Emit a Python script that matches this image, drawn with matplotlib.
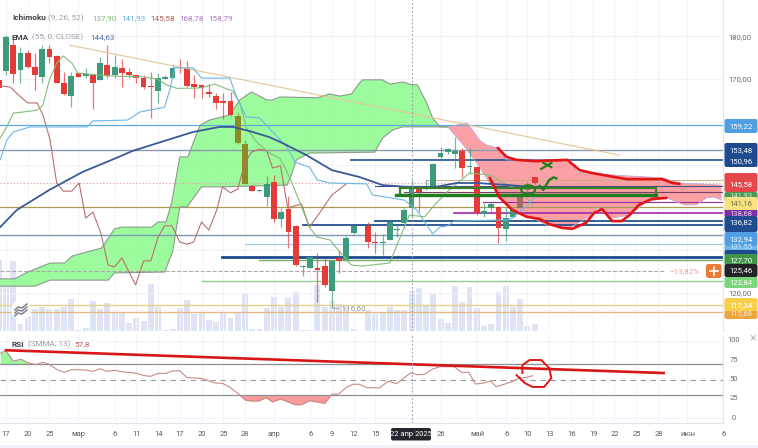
import numpy as np
import matplotlib
matplotlib.use("Agg")
import matplotlib.pyplot as plt
from matplotlib.patches import FancyBboxPatch, Ellipse, Circle

plt.rcParams['font.family'] = ['Roboto', 'DejaVu Sans']

# ---------- candles (bar index -1 .. 73) ----------
OPEN = [169.8,171.9,177.9,172.1,176.1,172.9,170.4,177.0,175.4,169.0,166.1,171.3,170.8,170.9,169.8,173.3,170.9,172.6,171.6,170.9,170.2,168.3,167.3,170.1,170.3,172.7,172.6,168.8,168.5,166.9,166.1,164.9,164.9,161.3,154.8,145.0,143.9,142.4,145.9,137.3,139.6,135.7,126.0,125.9,125.8,126.4,120.5,128.2,127.7,134.1,np.nan,135.7,131.8,131.6,132.4,134.8,136.3,139.8,144.2,144.2,145.0,151.8,152.9,152.5,153.2,149.4,149.5,138.5,139.8,140.2,134.9,137.7,142.9,144.0,147.2]
HIGH = [170.3,180.2,179.5,177.5,176.8,176.0,177.9,177.9,175.6,171.7,171.7,171.4,172.5,170.9,175.2,177.9,175.6,174.6,172.5,171.0,170.9,171.7,171.3,170.9,173.3,174.6,174.3,170.9,168.8,168.8,166.7,166.7,167.0,162.1,155.7,145.2,144.1,147.3,147.5,139.9,142.7,135.8,126.5,128.5,129.4,128.5,127.7,130.0,133.2,135.7,np.nan,136.7,134.2,133.7,136.9,135.9,139.8,146.4,144.5,146.4,150.3,154.2,153.8,156.5,153.8,153.8,149.7,141.0,141.3,140.3,140.2,140.1,143.4,146.0,147.2]
LOW = [167.0,170.9,169.0,169.0,172.5,167.4,169.0,173.7,169.0,166.3,163.5,170.4,170.2,163.1,169.8,170.2,170.2,168.1,170.2,169.0,167.6,160.8,164.3,170.0,170.2,171.5,168.1,165.5,165.6,165.9,163.1,160.6,161.3,154.8,145.4,143.8,143.6,140.3,136.7,135.4,130.6,126.4,124.0,125.8,118.0,121.5,116.6,124.7,127.5,133.8,np.nan,130.4,129.3,128.9,132.4,133.0,135.1,137.8,139.0,144.1,144.7,150.9,152.5,149.1,147.0,147.8,138.2,137.8,139.0,131.6,132.2,137.5,139.8,143.0,145.5]
CLOSE = [168.0,179.9,171.2,176.0,172.7,170.9,177.0,175.1,169.1,166.5,170.7,170.5,170.9,169.1,173.7,170.7,172.7,171.5,170.9,170.3,168.2,168.1,170.2,170.3,172.6,172.6,168.4,168.2,168.0,166.5,164.5,164.3,161.6,155.0,145.5,143.9,143.9,145.5,137.4,139.0,134.3,126.5,126.2,128.3,125.4,121.9,127.5,127.5,132.8,135.7,np.nan,132.0,131.6,131.8,136.7,135.0,139.4,144.5,143.5,144.7,150.1,152.6,153.6,153.2,149.1,149.5,138.6,139.2,140.8,135.1,137.5,139.4,139.9,144.4,145.6]
VOLUME = [71,52,70,7,15,22,24,22,22,24,32,1,3,30,22,28,19,18,8,13,10,47,24,1,2,23,31,17,18,11,9,18,13,19,37,2,2,23,34,24,33,39,1,1,46,24,30,27,24,2,0,21,17,18,24,21,21,40,43,25,37,12,8,45,29,44,23,5,7,39,45,24,32,5,7]

# ---------- ichimoku and EMA ----------
EMA_X = [-0.8,1.5,6,10.6,14.6,17.5,22.2,25.8,29.5,31.3,33.7,36.4,38.2,41.5,45,48.8,52,55.3,59.4,62.2,65,69.5,73]
EMA_Y = [135.4,139.4,144.1,148.3,151.1,153.2,155.7,157.6,158.8,158.8,157.8,156.4,155.0,152.2,148.7,147.1,145.2,144.8,144.8,145.7,145.7,145.2,144.7]
KIJUN_X = [-0.8,0.1,1,3.3,11.2,12,16.8,18.5,21.9,22.6,23.3,25.8,27,30.9,32,33.2,35,38.8,39.9,41.9,43,44.7,49.8,50.6,55,56.7,58.9,59.9,61,61.9,69.5,70.9,73]
KIJUN_Y = [151.1,155.7,157.6,158.8,158.8,160.2,160.4,162.3,163.4,167.4,172.6,172.6,170.2,170.2,165.1,161.1,160.9,154.1,150.6,149.4,146.4,145.7,145.5,142.9,141.7,139.4,133.8,135.4,135.7,136.8,137.1,138.9,142.2]
TENKAN_X = [-0.8,0.1,1,4.3,5.1,6,7,7.9,9.1,9.9,14.3,18.9,20.8,22.2,23.6,26.8,28.8,30.5,31.3,32.3,33.2,34.6,36.4,37.8,38.8,39.6,40.6,41.9,42.9,44.7,46.1,47.7,49.2,53,54.1,55.7,57.8,59.4,61.2,64,66.8,69.5,70.9,71.7,72.7]
TENKAN_Y = [156.2,158.8,162.0,162.7,163.9,169.8,173.7,175.4,173.7,171.4,170.7,170.5,170.0,168.6,167.8,167.9,168.8,167.7,167.2,164.4,158.5,155.3,152.7,151.5,148.3,145.2,141.0,135.4,133.1,132.4,129.6,126.5,126.3,127.0,131.7,138.2,137.8,141.0,144.1,148.0,147.6,145.0,144.5,142.7,140.3]
CHIKOU_X = [-0.8,0.6,1.7,3,4.3,5.1,6.1,6.5,7,7.9,9.1,10.1,11,12,13.1,14.1,15,16,17.9,19,20,21,21.9,22.9,24,25,25.9,27,28,29.1,29.9,31,32,33,33.9,35,36,36.8,37.9,38.9,40.8,41.9,43.3,45,47]
CHIKOU_Y = [168.4,168.1,166.3,164.4,164.4,161.6,155.7,151.1,145.7,143.8,143.8,145.7,137.5,138.9,134.0,126.5,126.1,128.2,121.9,127.5,127.5,133.1,135.7,135.7,131.9,131.4,131.9,136.6,134.7,139.4,144.8,143.4,144.3,150.4,152.9,153.6,153.2,149.2,149.7,139.9,140.8,135.4,138.7,142.9,145.5]
GREEN_TOP_X = [-0.8,1.2,3,6.1,8.1,9.1,11.2,13.2,15,16,20.1,21,22.1,22.9,24,25.1,26.8,28.1,30.9,32.3,33.9,36,36.8,37.8,43,44.7,46.1,47.7,48.6,49.2,52,53,54.8,55.7,56.8,58.1,58.9,59.9,61]
GREEN_TOP_Y = [123.3,123.3,124.9,127.0,127.0,128.6,129.6,130.5,135.0,135.4,135.4,136.6,136.6,141.3,151.8,151.8,159.2,160.4,161.6,165.1,167.0,165.1,165.1,165.8,165.6,166.5,166.0,166.5,168.6,169.8,169.8,168.8,169.3,168.8,168.6,164.4,160.9,158.8,158.8]
GREEN_LOW_X = [-0.8,4,6.1,14.1,15,21.9,23,24,25,27,29.9,38.8,39.4,40.1,41.9,50.9,52,53.4,54.8,61]
GREEN_LOW_Y = [121.6,121.6,123.0,123.0,124.7,124.9,129.6,140.1,140.1,144.8,144.8,145.2,147.6,151.1,152.7,152.9,156.2,158.1,158.8,158.8]
RED_TOP_X = [61,63.7,65.4,66.3,67.9,69.1,77.8,78.9,80.5,83.3,90.6,93,98.8]
RED_TOP_Y = [158.8,159.7,155.7,154.6,153.9,151.1,151.1,148.3,148.0,147.6,146.9,145.7,145.2]
RED_LOW_X = [61,63,65,66.8,69.5,70.9,73.2,74.6,77.8,80.5,81.7,83.7,86.1,88.4,91.2,93.7,95.3,96.7,97.8,98.8]
RED_LOW_Y = [158.8,154.9,150.4,145.7,139.9,138.7,137.1,135.9,135.2,137.8,139.9,137.5,138.2,141.3,142.2,140.6,140.6,142.2,142.4,141.7]

# ---------- drawings ----------
TREND_X = [8.8,84.7]
TREND_Y = [177.9,152.2]
STROKE_UP_X = [67.9,69.1,70.5,73.2,77.5,79.2,81,85.7,90.6,92,93]
STROKE_UP_Y = [153.9,151.8,151.1,150.8,151.1,148.7,148.0,146.6,146.6,145.7,145.5]
STROKE_LOW_X = [66.8,68.1,69.9,71.9,73.7,75,76.8,78.2,80.1,81.2,82.3,83.7,85,86.1,87.4,89.2,91.2]
STROKE_LOW_Y = [146.9,142.4,139.4,137.8,137.3,136.1,135.2,135.0,136.4,138.7,139.6,136.8,136.8,138.2,140.6,142.0,142.2]
CHECK_X = [73.7,74.2,75,75.6,76]
CHECK_Y = [145.0,144.1,146.4,147.0,146.8]
CROSS_A_X = [74.2,75.3]
CROSS_A_Y = [150.4,149.4]
CROSS_B_X = [75.3,73.9]
CROSS_B_Y = [150.4,149.0]
BOX_X = [54.4,89.8]
BOX_Y = [142.9,144.6]

# price, first bar
H_PRICE = [159.22,153.48,150.96,145.58,145.1,143.6,146.4,141.16,140.2,138.68,136.82,135.9,133.5,131.4,128.4,127.7,125.2,122.8,117.2,115.6]
H_START = [-1,-1,47.7,-1,50.9,55,58,65.8,-1,61.8,50.9,41,-1,33,29.8,35,-1,27,-1,-1]

# ---------- RSI ----------
RSI_X = [-0.8,0,1,2.1,3,4.1,5.1,5.9,7,8,9.1,11,12,13,13.9,15,16,18.1,18.9,19.9,21,22.1,22.9,24,25,27,28.8,29.9,30.9,31.9,33,33.9,34.9,35.9,36.8,37.9,39.9,40.8,41.9,44,45,45.9,47,47.9,48.8,49.8,51.6,52.8,53.9,55.9,56.8,57.8,58.9,59.9,61.9,62.9,63.9,64.8,65.8,66.9,67.7,68.8,69.8,70.8,71.9,72.7]
RSI_Y = [84,87.4,74,76.2,71.9,69.3,72.3,70.1,63.2,59.3,62.8,62.3,60.6,64,60.6,61.9,60.1,58,55.4,54,58,58,61,61.4,52.4,51.5,45.5,45,39.9,32.9,23.4,22.1,22.1,26.4,20.8,24.7,17.3,17.3,22.5,19,30.8,30.8,39.9,43.8,43.8,39.4,39.2,48,44.5,58.8,56.2,56.7,63.6,66.6,66.6,59.3,59.3,44.2,45,48,40.7,43.8,47.1,51.5,52.8,54.9]
RSI_TREND_X = [0,90.8]
RSI_TREND_Y = [88,58.4]
RSI_RING_X = [71.3,71.3,72.3,73.9,75,75.3,74.3,72.7,71.6,70.5]
RSI_RING_Y = [58.4,68.8,75.3,75.3,64.9,51.9,40.3,40.3,45.5,55.8]

# ---------- axis labels ----------
X_TICKS = [0,3,6,10,15,18,21,24,27,30,33,37,42,45,48,51,60,65,69,72,75,78,81,84,87,90,94,99]
X_LABELS = ['17','20','25','мар','6','11','14','17','20','25','28','апр','6','9','12','15','26','май','6','10','13','16','19','22','25','28','июн','6']
CROSS_BAR = 56
CROSS_LABEL = '22 апр 2025'
LOW_NOTE = '← 116,60'
PCT_NOTE = '−13,82%'
RSI_TICKS = [100,75,50,25,0]

W, H = 758, 448
fig = plt.figure(figsize=(W/100, H/100), dpi=100, facecolor='white')
PANEL_R = 723
PR_BOTTOM = 331
PX_PER_BAR = 7.25
X0 = 6
xlim = ((0-X0)/PX_PER_BAR, (PANEL_R-X0)/PX_PER_BAR)

ax = fig.add_axes([0, 1-PR_BOTTOM/H, PANEL_R/W, PR_BOTTOM/H])
ax.set_xlim(*xlim)
ax.set_ylim(111.12, 188.45)
rs = fig.add_axes([0, 1-423/H, PANEL_R/W, (423-335)/H])
rs.set_xlim(*xlim)
rs.set_ylim(-6.5, 107.8)
GRID = '#f1f3f8'
for a in (ax, rs):
    a.set_xticks(X_TICKS)
    a.set_xticklabels([])
    a.tick_params(length=0)
    a.set_yticklabels([])
    a.grid(True, color=GRID, lw=0.7)
    a.set_axisbelow(True)
    for s in a.spines.values():
        s.set_visible(False)
ax.set_yticks(range(120, 190, 10))
rs.set_yticks([0, 100])
for a in (ax, rs):
    a.spines['right'].set_visible(True)
    a.spines['right'].set_color('#e3e6ee')
rs.spines['bottom'].set_visible(True)
rs.spines['bottom'].set_color('#e3e6ee')

bars = np.arange(-1, 74)
op, hi, lo, cl = map(np.array, (OPEN, HIGH, LOW, CLOSE))

# volume on its own overlay scale
vx = ax.twinx()
vx.set_ylim(0, PR_BOTTOM)
vx.set_yticks([])
for s in vx.spines.values():
    s.set_visible(False)
vx.bar(bars, VOLUME, width=0.82, color='#dfe3f6', zorder=1)
ax.set_zorder(vx.get_zorder()+1)
ax.patch.set_visible(False)

# horizontal levels
H_COL = ['#59a8de','#8a9bb0','#24508f','#e8a0a8','#3f4f8a','#7a3f62','#c9ad86','#93309f','#ab9a55','#a02aaa','#24508f','#24508f','#7d98b3','#9ccbe3','#1d4a8c','#6fae6f','#b0a8ac','#90cc90','#e6d08a','#e4bb85']
H_W = [0.9,1.0,1.2,0.9,0.8,0.8,0.7,0.8,0.9,1.2,1.3,1.3,1.0,0.9,2.0,1.0,0.8,1.0,1.0,1.0]
H_LS = ['-','-','-',':','-','-','-','-','-','-','-','-','-','-','-','-','--','-','-','-']
for p, s, c, w, l in zip(H_PRICE, H_START, H_COL, H_W, H_LS):
    end = 90.9 if p == 125.2 else xlim[1]
    ax.plot([max(s, xlim[0]), end], [p, p], color=c, lw=w, ls=l, zorder=2)

# clouds
CL_GREEN, CL_RED = '#97fb97', '#fb9ca0'
ax.fill(np.r_[GREEN_TOP_X, GREEN_LOW_X[::-1]], np.r_[GREEN_TOP_Y, GREEN_LOW_Y[::-1]], color=CL_GREEN, lw=0, alpha=0.95, zorder=1.5)
ax.fill(np.r_[RED_TOP_X, RED_LOW_X[::-1]], np.r_[RED_TOP_Y, RED_LOW_Y[::-1]], color=CL_RED, lw=0, alpha=0.95, zorder=1.5)
for xs, ys in ((GREEN_TOP_X, GREEN_TOP_Y), (GREEN_LOW_X, GREEN_LOW_Y)):
    ax.plot(xs, ys, color='#8d9a8d', lw=0.8, zorder=2.2)
for xs, ys in ((RED_TOP_X, RED_TOP_Y), (RED_LOW_X, RED_LOW_Y)):
    ax.plot(xs, ys, color='#c3a6cc', lw=0.6, zorder=2.2)

# candles
UP, DN = '#3d9a7a', '#e43b38'
OVER_GREEN = (32, 33)
OVER_RED = (71,)
for b, o, h, l, c in zip(bars, op, hi, lo, cl):
    if np.isnan(o):
        continue
    col = UP if c >= o else DN
    if b in OVER_GREEN:
        col = '#8f8a26'
    if b in OVER_RED:
        col = '#9d6f62'
    ax.vlines(b, l, h, color=col, lw=0.9, alpha=0.7, zorder=3)
    ax.bar(b, max(abs(c-o), 0.25), bottom=min(o, c), width=0.8, color=col, zorder=3.2)

# lines
ax.plot(CHIKOU_X, CHIKOU_Y, color='#b8706c', lw=0.8, zorder=3.5)
ax.plot(TENKAN_X, TENKAN_Y, color='#86bb7a', lw=0.8, zorder=3.5)
ax.plot(KIJUN_X, KIJUN_Y, color='#6db6e4', lw=0.8, zorder=3.5)
ax.plot(EMA_X, EMA_Y, color='#3a5a96', lw=1.3, zorder=3.6)
ax.plot(TREND_X, TREND_Y, color='#e8c398', lw=0.8, zorder=3.4)

# hand drawn marks
DG = '#1f7f1f'
ax.plot([BOX_X[0], BOX_X[1], BOX_X[1], BOX_X[0], BOX_X[0]],
        [BOX_Y[1], BOX_Y[1], BOX_Y[0], BOX_Y[0], BOX_Y[1]], color='#3c7f2a', lw=1.6, zorder=4)
ax.plot([53.9, BOX_X[1]], [BOX_Y[0], BOX_Y[0]], color=DG, lw=2.4, zorder=4)
ax.plot(STROKE_UP_X, STROKE_UP_Y, color='#e31414', lw=1.9, zorder=4.5, solid_capstyle='round')
ax.plot(STROKE_LOW_X, STROKE_LOW_Y, color='#e31414', lw=1.9, zorder=4.5, solid_capstyle='round')
ax.add_patch(Ellipse((72.1, 144.1), 1.9, 2.1, fill=False, ec=DG, lw=1.6, zorder=5))
ax.plot(CHECK_X, CHECK_Y, color=DG, lw=1.7, zorder=5)
ax.plot(CROSS_A_X, CROSS_A_Y, color=DG, lw=1.6, zorder=5)
ax.plot(CROSS_B_X, CROSS_B_Y, color=DG, lw=1.6, zorder=5)

# crosshair
for a in (ax, rs):
    a.axvline(CROSS_BAR, color='#9aa0ad', lw=0.8, ls=(0, (1.5, 2)), zorder=6)

# RSI panel
rx, ry = np.array(RSI_X), np.array(RSI_Y)
rs.fill_between(rx, ry, 70, where=(ry >= 70) & (rx < 4), interpolate=True, color='#9bf79b', lw=0)
rs.fill_between(rx, ry, 30, where=ry <= 30, interpolate=True, color='#fb9a9a', lw=0)
rs.axhline(70, color='#8d8f96', lw=0.9)
rs.axhline(30, color='#8d8f96', lw=0.9)
rs.axhline(50, color='#9a9ca3', lw=0.8, ls=(0, (5, 4)))
rs.plot(rx, ry, color='#c98a86', lw=0.8)
rs.plot(RSI_TREND_X, RSI_TREND_Y, color='#d81616', lw=1.9)
rs.plot(RSI_RING_X, RSI_RING_Y, color='#e31414', lw=1.4)

# overlay in figure pixels for labels and chrome
ov = fig.add_axes([0, 0, 1, 1], zorder=20)
ov.set_xlim(0, W)
ov.set_ylim(H, 0)
ov.axis('off')
FS = 5.4
ov.axhspan(445, H, color='#f0f2f7', lw=0)
for t, lab in zip(X_TICKS, X_LABELS):
    ov.text(X0+t*PX_PER_BAR, 434.5, lab, ha='center', va='center', fontsize=FS, color='#555a62')

ov.add_patch(FancyBboxPatch((391, 428), 40, 12.5, boxstyle='round,pad=0,rounding_size=2', fc='#24262c', ec='none'))
ov.text(411, 434.5, CROSS_LABEL, ha='center', va='center', fontsize=FS, color='white')

def seq(y, parts):
    for x, s, c, w in parts:
        ov.text(x, y, s, va='center', ha='left', fontsize=FS+0.5, color=c, fontweight=w)

seq(18, [(12,'Ichimoku','#3e4149','bold'),(48,'(9, 26, 52)','#9a9da5','normal'),(92,'137,90','#7fb56b','normal'),
         (121,'141,93','#62b0e0','normal'),(150,'145,58','#b15a58','normal'),(179,'168,78','#a77ac0','normal'),(208,'158,79','#a77ac0','normal')])
seq(37, [(12,'EMA','#3e4149','bold'),(32,'(55, 0, CLOSE)','#9a9da5','normal'),(90,'144,63','#4b6aa0','normal')])
seq(344.5, [(12,'RSI','#3e4149','bold'),(28,'(SMMA, 13)','#9a9da5','normal'),(74,'57,8','#b5605c','normal')])

# price labels
PRICE_TXT = [('180,00',37),('170,00',79),('120,00',293)]
for s, y in PRICE_TXT:
    ov.text(740, y, s, ha='center', va='center', fontsize=FS+0.2, color='#666a72')
for v in RSI_TICKS:
    ov.text(734, 418-v*0.77, str(v), ha='center', va='center', fontsize=FS, color='#666a72')
ov.text(753, 338, '×', ha='center', va='center', fontsize=9, color='#b5b8bf')

BOXES = [  # top, bottom, colour, text, text colour, text y
    (119,133,'#4f9fe2','159,22','white',126),
    (143,167,'#1f4a90','153,48','white',150.5),
    (310,319,'#f0a53a','115,68','#ffe9c8',313.5),
    (298,311,'#f8d047','117,34','white',305),
    (192,201,'#4c9a50','141,93','#cfe8cf',195),
    (173,192,'#e4484a','145,58','white',184.5),
    (209,217,'#7b2fa6','138,68','#e8d5f0',213),
    (197,210,'#f7e27f','141,16','#70704a',203.5),
    (245,252,'#6cb8ef','131,55','#d8ecfa',246.5),
    (250,256,'#1f4a90','','white',252),
    (216,232,'#1f4a90','136,82','white',222),
    (232,246,'#4f9fe2','132,94','white',239),
    (254,265,'#3f9648','127,70','white',260.5),
    (277,288,'#79d679','122,84','white',282),
    (264,277,'#232428','125,46','white',270.5),
]
for top, bot, col, txt, tc, ty in BOXES:
    ov.add_patch(FancyBboxPatch((724.5, top), 33, bot-top, boxstyle='round,pad=0,rounding_size=2', fc=col, ec='none'))
    if txt:
        ov.text(741, ty, txt, ha='center', va='center', fontsize=FS+0.2, color=tc)
ov.text(741, 161, '150,96', ha='center', va='center', fontsize=FS+0.2, color='white')

# order line note and plus button
ov.text(700, 271, PCT_NOTE, ha='right', va='center', fontsize=FS+0.4, color='#ec9a9a')
ov.add_patch(FancyBboxPatch((706, 264), 15.5, 14, boxstyle='round,pad=0,rounding_size=2.5', fc='#ec7a34', ec='none'))
ov.plot([709.5, 718], [271, 271], color='white', lw=1.2)
ov.plot([713.7, 713.7], [267, 275], color='white', lw=1.2)
ov.text(333, 308, LOW_NOTE, ha='left', va='center', fontsize=FS+0.3, color='#9a9da5')

# watermark logo
ov.add_patch(Circle((21, 310), 10, fc='white', ec='none', alpha=0.9))
ov_x = np.array([15, 18, 22, 27])
for dy in (0, 3, 6):
    ov.plot(ov_x, np.array([311, 308, 309, 305])+dy-1, color='#7d8088', lw=1.1)

fig.savefig('out.png', dpi=100)
